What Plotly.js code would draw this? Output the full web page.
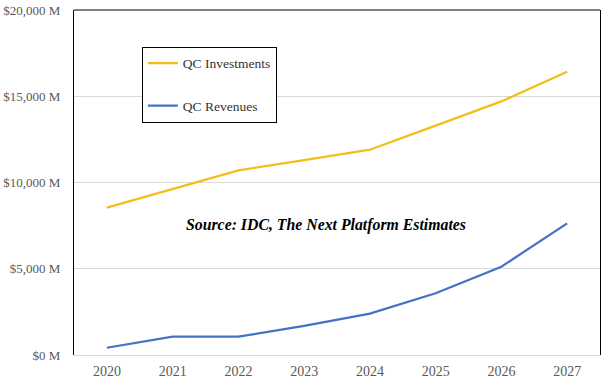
<!DOCTYPE html>
<html>
<head>
<meta charset="utf-8">
<script src="https://cdn.plot.ly/plotly-3.0.1.min.js"></script>
<style>html,body{margin:0;padding:0;background:#fff;}#chart{width:608px;height:385px;}</style>
</head>
<body>
<div id="chart"></div>
<script>
const years = ['2020','2021','2022','2023','2024','2025','2026','2027'];
const investments = [8540, 9600, 10700, 11300, 11900, 13300, 14700, 16420];
const revenues = [420, 1060, 1060, 1690, 2400, 3580, 5120, 7630];
const yTicks = [0, 5000, 10000, 15000, 20000];
const yTickText = ['$0 M', '$5,000 M', '$10,000 M', '$15,000 M', '$20,000 M'];
const seriesNames = ['QC Investments', 'QC Revenues'];
const sourceNote = 'Source: IDC, The Next Platform Estimates';

const serif = '"Liberation Serif", "DejaVu Serif", serif';

const traces = [
  {x: years, y: investments, name: seriesNames[0], type: 'scatter', mode: 'lines',
   legendgroup: 'a', line: {color: '#F2BE1A', width: 2.25}},
  {x: years, y: revenues, name: seriesNames[1], type: 'scatter', mode: 'lines',
   legendgroup: 'b', line: {color: '#4472C4', width: 2.25}}
];

const layout = {
  width: 608, height: 385,
  margin: {l: 74, r: 8, t: 10, b: 30, pad: 0},
  paper_bgcolor: '#fff', plot_bgcolor: '#fff',
  showlegend: true,
  font: {family: serif, color: '#595959', size: 13},
  xaxis: {
    type: 'category', range: [-0.5, 7.5], showgrid: false, zeroline: false,
    showline: false, ticks: '', ticklabelstandoff: 6,
    tickfont: {family: serif, size: 14, color: '#595959'}
  },
  yaxis: {
    range: [0, 20000], tickmode: 'array', tickvals: yTicks, ticktext: yTickText,
    showgrid: true, gridcolor: '#d9d9d9', gridwidth: 1,
    zeroline: true, zerolinecolor: '#d9d9d9', zerolinewidth: 1,
    showline: true, linecolor: '#000', linewidth: 1, mirror: true,
    ticks: '', ticklabelstandoff: 10,
    tickfont: {family: serif, size: 13, color: '#595959'}
  },
  legend: {
    x: 0.129, y: 0.893, xanchor: 'left', yanchor: 'top',
    bordercolor: '#000', borderwidth: 1, bgcolor: '#fff',
    font: {family: serif, size: 13.5, color: '#333'},
    tracegroupgap: 22, itemwidth: 30, traceorder: 'grouped'
  },
  shapes: [
    {type: 'line', xref: 'paper', yref: 'paper', x0: 0, x1: 1, y0: 1, y1: 1,
     line: {color: '#000', width: 1}}
  ],
  annotations: [
    {text: '<b><i>' + sourceNote + '</i></b>', xref: 'paper', yref: 'paper',
     x: 0.48, y: 0.377, xanchor: 'center', yanchor: 'middle', showarrow: false,
     font: {family: serif, size: 15.8, color: '#000'}}
  ]
};

Plotly.newPlot('chart', traces, layout, {displayModeBar: false, staticPlot: true});
</script>
</body>
</html>
